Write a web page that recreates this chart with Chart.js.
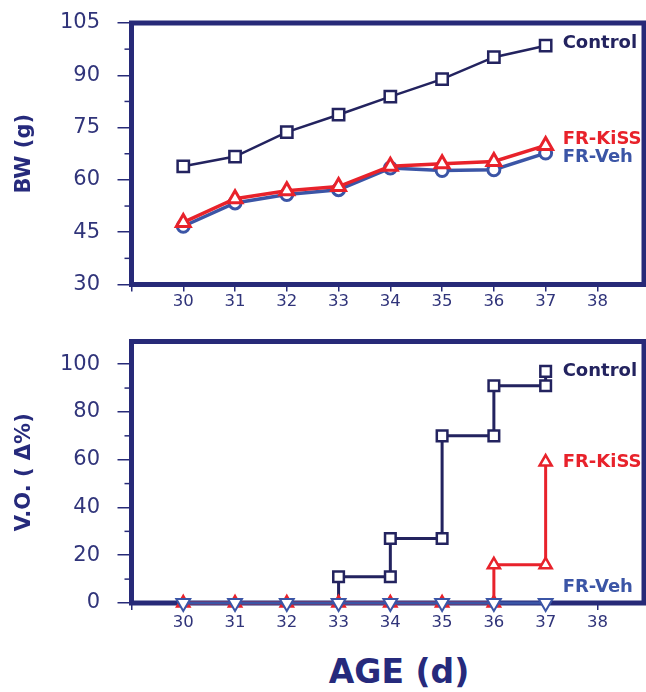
<!DOCTYPE html>
<html>
<head>
<meta charset="utf-8">
<script src="https://cdn.jsdelivr.net/npm/chart.js@4/dist/chart.umd.min.js"></script>
<style>
  body { margin: 0; background: #fff; width: 646px; height: 692px; overflow: hidden; position: relative; }
  .box { position: absolute; left: 0; width: 646px; }
  #age { position: absolute; left: 299px; width: 200px; top: 650px; text-align: center;
         font: bold 33px "DejaVu Sans", sans-serif; color: #262a7c; line-height: 44px; }
</style>
</head>
<body>
<div class="box" style="top:0;height:320px"><canvas id="bw_chart"></canvas></div>
<div class="box" style="top:320px;height:330px"><canvas id="vo_chart"></canvas></div>
<div id="age">AGE (d)</div>
<script>
// DATA

const days = [30, 31, 32, 33, 34, 35, 36, 37];
const dayTicks = [29, 30, 31, 32, 33, 34, 35, 36, 37, 38];

const bwTicks = [30, 45, 60, 75, 90, 105];
const bwControl = [63.9, 66.7, 73.7, 78.7, 83.9, 88.9, 95.2, 98.5];
const bwKiss = [47.8, 54.6, 56.9, 58.1, 63.9, 64.6, 65.3, 69.9];
const bwVeh = [46.7, 53.4, 55.8, 57.2, 63.4, 62.7, 62.9, 67.7];

const voTicks = [0, 20, 40, 60, 80, 100];
const voControl = [0, 0, 0, 11, 27, 70, 91, 97];
const voKiss = [0, 0, 0, 0, 0, 0, 16, 59];
const voVeh = [0, 0, 0, 0, 0, 0, 0, 0];

// COLOURS

const NAVY = '#23235f';
const FRAME = '#272a78';
const TEXT = '#30347a';
const RED = '#e8222b';
const BLUE = '#3b55a6';

//==================================
// HELPERS
//==================================

function points(vals) {
	return days.map((d, i) => ({ x: d, y: vals[i] }));
}

// step curve: at each day where the value changes, put a point at the old and at the new value
function stepPoints(vals) {
	const pts = [];
	days.forEach((d, i) => {
		if (i > 0 && vals[i] !== vals[i - 1]) pts.push({ x: d, y: vals[i - 1] });
		pts.push({ x: d, y: vals[i] });
	});
	return pts;
}

// frame around the plot, minor ticks and the series labels
const framePlugin = {
	id: 'frame',
	beforeDatasetsDraw(chart, args, opts) {
		const { ctx, chartArea: a, scales } = chart;
		ctx.save();
		ctx.strokeStyle = FRAME;
		ctx.lineWidth = 1.5;
		opts.minor.forEach(v => {
			const y = scales.y.getPixelForValue(v);
			ctx.beginPath();
			ctx.moveTo(a.left - 7, y);
			ctx.lineTo(a.left, y);
			ctx.stroke();
		});
		ctx.lineWidth = 5;
		ctx.strokeRect(a.left, a.top, a.right - a.left, a.bottom - a.top);
		ctx.restore();
	},
	afterDatasetsDraw(chart, args, opts) {
		const { ctx, scales } = chart;
		ctx.save();
		ctx.font = 'bold 18px "DejaVu Sans"';
		ctx.textBaseline = 'middle';
		opts.labels.forEach(l => {
			ctx.fillStyle = l.color;
			ctx.fillText(l.text, scales.x.getPixelForValue(37) + 17, scales.y.getPixelForValue(l.value) + l.dy);
		});
		ctx.restore();
	}
};

function xScale(pad) {
	return {
		type: 'linear',
		min: 29,
		max: 38.9,
		afterBuildTicks: s => { s.ticks = dayTicks.map(v => ({ value: v })); },
		afterFit: s => {
			s.height = s.chart.height - s.chart.options.layout.padding.top - s.chart.options.plotHeight;
			s.paddingLeft = 0;
			s.paddingRight = 0;
		},
		border: { display: false },
		grid: { drawOnChartArea: false, drawTicks: true, tickLength: 7, color: FRAME, lineWidth: 1.5 },
		ticks: {
			padding: pad,
			color: TEXT,
			font: { family: 'DejaVu Sans', size: 16.5 },
			maxRotation: 0,
			callback: v => (v === 29 ? '' : v)
		}
	};
}

function yScale(min, max, tickVals, title) {
	return {
		type: 'linear',
		min: min,
		max: max,
		afterBuildTicks: s => { s.ticks = tickVals.map(v => ({ value: v })); },
		afterFit: s => {
			s.width = 131.5;
			s.paddingTop = 0;
			s.paddingBottom = 0;
		},
		border: { display: false },
		grid: { drawOnChartArea: false, drawTicks: true, tickLength: 14, color: FRAME, lineWidth: 1.5 },
		ticks: { padding: 17.5, color: TEXT, font: { family: 'DejaVu Sans', size: 21 } },
		title: {
			display: true,
			text: title,
			color: '#262a7c',
			padding: { top: 12, bottom: 0 },
			font: { family: 'DejaVu Sans', size: 21, weight: 'bold' }
		}
	};
}

//==================================
// MAIN
//==================================

var bwChart,
	voChart;

function initialize() {
	const bw_context = document.getElementById('bw_chart').getContext('2d');
	const vo_context = document.getElementById('vo_chart').getContext('2d');

	bwChart = new Chart(bw_context, {
		type: 'line',
		data: {
			datasets: [
				{
					label: 'FR-KiSS', data: points(bwKiss), order: 0,
					borderColor: RED, borderWidth: 3.5, backgroundColor: '#fff',
					pointStyle: 'triangle', pointRadius: 8, pointBorderWidth: 3, pointBorderColor: RED, clip: false
				},
				{
					label: 'FR-Veh', data: points(bwVeh), order: 1,
					borderColor: BLUE, borderWidth: 3.5, backgroundColor: '#fff',
					pointStyle: 'circle', pointRadius: 6, pointBorderWidth: 3, pointBorderColor: BLUE, clip: false
				},
				{
					label: 'Control', data: points(bwControl), order: 2,
					borderColor: NAVY, borderWidth: 2.5, backgroundColor: '#fff',
					pointStyle: 'rect', pointRadius: 8, pointBorderWidth: 2.5, pointBorderColor: NAVY, clip: false
				}
			]
		},
		options: {
			responsive: true,
			maintainAspectRatio: false,
			animation: false,
			plotHeight: 261.5,
			layout: { autoPadding: false, padding: { top: 23, right: 2, left: 0, bottom: 0 } },
			scales: { x: xScale(0), y: yScale(30, 105, bwTicks, 'BW (g)') },
			plugins: {
				legend: { display: false },
				tooltip: { enabled: false },
				frame: {
					minor: [37.5, 52.5, 67.5, 82.5, 97.5],
					labels: [
						{ text: 'Control', color: NAVY, value: bwControl[7], dy: -2 },
						{ text: 'FR-KiSS', color: RED, value: bwKiss[7], dy: -6 },
						{ text: 'FR-Veh', color: BLUE, value: bwVeh[7], dy: 4 }
					]
				}
			}
		},
		plugins: [framePlugin]
	});

	voChart = new Chart(vo_context, {
		type: 'line',
		data: {
			datasets: [
				{
					label: 'FR-Veh', data: stepPoints(voVeh), order: 0,
					borderColor: BLUE, borderWidth: 3, backgroundColor: '#fff',
					pointStyle: 'triangle', pointRotation: 180, pointRadius: 8, pointBorderWidth: 2, pointBorderColor: BLUE, clip: false
				},
				{
					label: 'FR-KiSS', data: stepPoints(voKiss), order: 1,
					borderColor: RED, borderWidth: 3, backgroundColor: '#fff',
					pointStyle: 'triangle', pointRadius: 7, pointBorderWidth: 2.5, pointBorderColor: RED, clip: false
				},
				{
					label: 'Control', data: stepPoints(voControl), order: 2,
					borderColor: NAVY, borderWidth: 3, backgroundColor: '#fff',
					pointStyle: 'rect', pointBorderWidth: 2.5, pointBorderColor: NAVY, clip: false,
					pointRadius: c => (c.raw && c.raw.y === 0 ? 0 : 7.5)
				}
			]
		},
		options: {
			responsive: true,
			maintainAspectRatio: false,
			animation: false,
			plotHeight: 261.5,
			layout: { autoPadding: false, padding: { top: 21.5, right: 2, left: 0, bottom: 0 } },
			scales: { x: xScale(3), y: yScale(0, 109.5, voTicks, 'V.O. ( Δ%)') },
			plugins: {
				legend: { display: false },
				tooltip: { enabled: false },
				frame: {
					minor: [10, 30, 50, 70, 90],
					labels: [
						{ text: 'Control', color: NAVY, value: voControl[7], dy: 0 },
						{ text: 'FR-KiSS', color: RED, value: voKiss[7], dy: 0 },
						{ text: 'FR-Veh', color: BLUE, value: voVeh[7], dy: -16 }
					]
				}
			}
		},
		plugins: [framePlugin]
	});
}

initialize();
</script>
</body>
</html>
